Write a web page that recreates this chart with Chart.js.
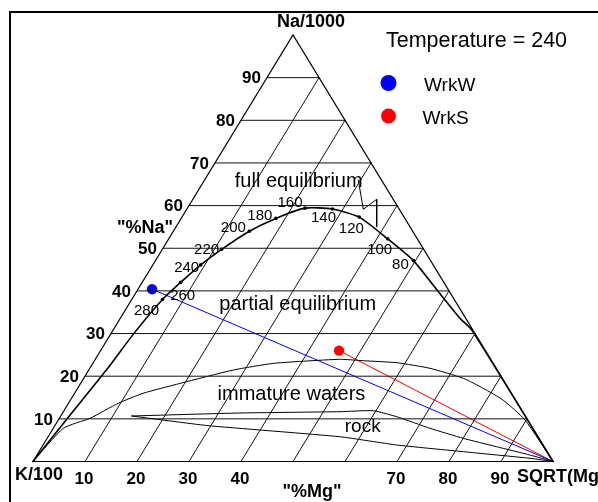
<!DOCTYPE html>
<html><head><meta charset="utf-8">
<script src="https://cdn.jsdelivr.net/npm/chart.js@4.4.1/dist/chart.umd.min.js"></script>
<style>html,body{margin:0;padding:0;background:#fff;overflow:hidden}canvas{display:block}</style>
</head><body>
<canvas id="c" width="598" height="502"></canvas>
<script>
// ---- data (ternary: Na %, Mg %; K = 100 - Na - Mg) ----
const naTicks = [10, 20, 30, 40, 50, 60, 70, 80, 90];
const naTickLabels = ['10', '20', '30', '40', '50', '60', '70', '80', '90'];
const mgTicks = [10, 20, 30, 40, 50, 60, 70, 80, 90];
const mgTickLabels = ['10', '20', '30', '40', '', '', '70', '80', '90'];

// full equilibrium line
const fullEqNa = [0, 10.1, 21.5, 30.1, 38, 42, 46.1, 49.75, 54, 57, 59.4, 59.2, 57.3, 52.2, 47.1, 40.2, 33.6, 30.8, 0];
const fullEqMg = [0, 1.55, 3.4, 4.4, 5.9, 7.4, 9.2, 11.4, 14.6, 18.2, 22.6, 28, 34.1, 42.1, 49.6, 57.6, 65.3, 69.0, 100];

// temperature marks on the full equilibrium line
const tempLabels = ['280', '260', '240', '220', '200', '180', '160', '140', '120', '100', '80'];
const tempNa = [38, 42, 46.1, 49.75, 54, 57, 59.4, 59.2, 57.3, 52.2, 47.1];
const tempMg = [5.9, 7.4, 9.2, 11.4, 14.6, 18.2, 22.6, 28, 34.1, 42.1, 49.6];

// immature waters boundary
const immNa = [0, 7.78, 10.13, 13.65, 16.0, 18.3, 21.45, 23.0, 23.56, 23.96, 23.63, 23.16, 21.85, 19.5, 17.16, 14.4, 9.73, 0];
const immMg = [0, 1.94, 5.9, 9.58, 13.2, 19.1, 27.8, 34.7, 40.9, 47.1, 51.7, 58.4, 65.4, 73.0, 78.0, 83.2, 89.75, 100];

// rock field boundaries
const rockUpNa = [10.67, 11.37, 11.68, 11.91, 10.5, 7.78, 5.44, 3.47, 1.52, 0];
const rockUpMg = [13.65, 34.1, 53.2, 59.5, 64.7, 72.46, 80.0, 87.4, 94.8, 100];
const rockLoNa = [10.67, 8.44, 5.81, 3.87, 2.3, 0.75, 0];
const rockLoMg = [13.65, 29.2, 56.1, 68.0, 81.6, 95.2, 100];

// small zig-zag mark
const zigNa = [66.0, 59.13, 61.48, 55.05];
const zigMg = [29.56, 33.96, 35.36, 38.57];

// samples
const sampleNames = ['WrkW', 'WrkS'];
const sampleNa = [40.4, 26.0];
const sampleMg = [2.7, 45.85];
const sampleColors = ['#0000ff', '#ff0000'];
const temperature = 240;

// ---- helpers ----
function tern(na, mg) { return { x: mg + na / 2, y: na }; }
function pts(naArr, mgArr) { return naArr.map((n, i) => tern(n, mgArr[i])); }
function lineDs(data, color, width, tension) {
  return { data, showLine: true, borderColor: color, borderWidth: width, pointRadius: 0,
    fill: false, tension: tension || 0, clip: false, backgroundColor: color };
}

const datasets = [];
// triangle
datasets.push(lineDs([tern(0, 0), tern(100, 0), tern(0, 100), tern(0, 0)], '#000', 1.2));
// Na grid lines (horizontal)
naTicks.forEach(n => datasets.push(lineDs([tern(n, 0), tern(n, 100 - n)], '#111', 1)));
// Mg grid lines
mgTicks.forEach(m => datasets.push(lineDs([tern(0, m), tern(100 - m, m)], '#111', 1)));
// curves
datasets.push(lineDs(pts(fullEqNa, fullEqMg), '#000', 1.6, 0.2));
datasets.push(lineDs(pts(immNa, immMg), '#000', 1, 0.2));
datasets.push(lineDs(pts(rockUpNa, rockUpMg), '#000', 1, 0.15));
datasets.push(lineDs(pts(rockLoNa, rockLoMg), '#000', 1, 0.15));
datasets.push(lineDs(pts(zigNa, zigMg), '#000', 1));
// temperature dots
datasets.push({ data: pts(tempNa, tempMg), showLine: false, pointRadius: 1.8, pointBorderWidth: 0,
  pointBackgroundColor: '#000', clip: false });
// sample lines to Mg vertex and sample points
sampleNa.forEach((n, i) => {
  datasets.push(lineDs([tern(n, sampleMg[i]), tern(0, 100)], sampleColors[i], 1));
});
sampleNa.forEach((n, i) => {
  datasets.push({ data: [tern(n, sampleMg[i])], showLine: false, pointRadius: 5.2, pointBorderWidth: 0,
    pointBackgroundColor: sampleColors[i], clip: false });
});

const FONT = '"Liberation Sans", Arial, Helvetica, sans-serif';
const tempOffsets = [[-16, 11], [2, 13], [-14, 3], [-15, 1], [-16, -3], [-16, -3], [-15, -5], [-9, 9], [-8, 12], [-8, 11], [-13, 4]];

const textPlugin = {
  id: 'texts',
  afterDraw(chart) {
    const ctx = chart.ctx, xs = chart.scales.x, ys = chart.scales.y;
    const P = (na, mg) => { const t = tern(na, mg); return { x: xs.getPixelForValue(t.x), y: ys.getPixelForValue(t.y) }; };
    ctx.save();
    // frame
    ctx.strokeStyle = '#000'; ctx.lineWidth = 2;
    ctx.strokeRect(10, 12, 700, 600);
    ctx.fillStyle = '#000';
    ctx.textBaseline = 'middle';
    // Na tick labels (left edge)
    ctx.font = 'bold 17px ' + FONT; ctx.textAlign = 'right';
    naTicks.forEach((n, i) => { const p = P(n, 0); ctx.fillText(naTickLabels[i], p.x - 6, p.y + 1); });
    // Mg tick labels (bottom)
    ctx.textAlign = 'center';
    mgTicks.forEach((m, i) => { if (!mgTickLabels[i]) return; const p = P(0, m); ctx.fillText(mgTickLabels[i], p.x - 1, p.y + 18); });
    // axis titles
    ctx.font = 'bold 18px ' + FONT;
    let p = P(100, 0); ctx.textAlign = 'center'; ctx.fillText('Na/1000', p.x + 18, p.y - 13);
    p = P(0, 0); ctx.textAlign = 'left'; ctx.fillText('K/100', p.x - 18, p.y + 14);
    p = P(0, 100); ctx.fillText('SQRT(Mg)', p.x - 36, p.y + 16);
    p = P(0, 50); ctx.textAlign = 'center'; ctx.fillText('"%Mg"', p.x + 19, p.y + 31);
    p = P(60, 0); ctx.fillText('"%Na"', p.x - 44, p.y + 22);
    // temperature labels
    ctx.font = '15px ' + FONT; ctx.textAlign = 'center';
    tempLabels.forEach((t, i) => { const q = P(tempNa[i], tempMg[i]); ctx.fillText(t, q.x + tempOffsets[i][0], q.y + tempOffsets[i][1]); });
    // field labels
    ctx.font = '20px ' + FONT;
    const f = (txt, x, y) => ctx.fillText(txt, xs.getPixelForValue(x), ys.getPixelForValue(y));
    f('full equilibrium', 51.1, 65.6);
    f('partial equilibrium', 50.9, 36.7);
    f('immature waters', 49.7, 15.8);
    ctx.font = '19px ' + FONT;
    f('rock', 63.4, 8.15);
    // title and legend
    ctx.font = '21.5px ' + FONT; ctx.textAlign = 'left';
    ctx.fillText('Temperature = ' + temperature, 386, 41);
    ctx.font = '19px ' + FONT;
    const ly = [84, 117];
    sampleNames.forEach((s, i) => {
      ctx.beginPath(); ctx.fillStyle = sampleColors[i];
      ctx.arc(388.5, ly[i] - 1, i === 0 ? 8 : 7.5, 0, Math.PI * 2); ctx.fill();
      ctx.fillStyle = '#000';
      ctx.fillText(s, i === 0 ? 424 : 422.5, ly[i] + 2);
    });
    ctx.restore();
  }
};

new Chart(document.getElementById('c'), {
  type: 'scatter',
  data: { datasets },
  options: {
    responsive: false, animation: false, devicePixelRatio: 1,
    layout: { padding: { left: 33, right: 45, top: 35, bottom: 40.5 } },
    scales: {
      x: { type: 'linear', min: 0, max: 100, display: false },
      y: { type: 'linear', min: 0, max: 100, display: false }
    },
    plugins: { legend: { display: false }, tooltip: { enabled: false }, title: { display: false } },
    elements: { line: { borderCapStyle: 'round' } }
  },
  plugins: [textPlugin]
});
</script>
</body></html>
